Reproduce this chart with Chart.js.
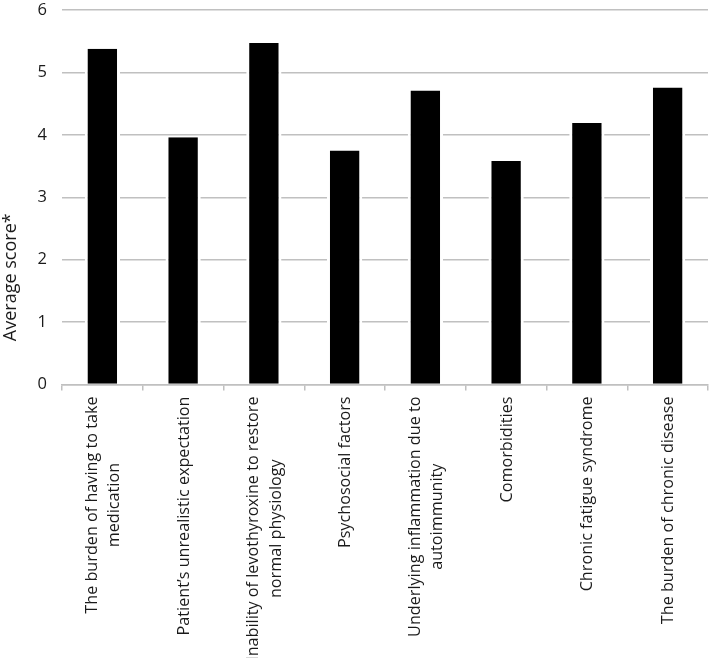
<!DOCTYPE html>
<html>
<head>
<meta charset="utf-8">
<script src="https://cdn.jsdelivr.net/npm/chart.js@4.4.1/dist/chart.umd.min.js"></script>
<style>
  html, body { margin: 0; padding: 0; background: #fff; }
</style>
</head>
<body>
<canvas id="chart" width="712" height="658"></canvas>
<script>
// data
const categories = [
  ['The burden of having to take', 'medication'],
  ['Patient\u2019s unrealistic expectation'],
  ['Inability of levothyroxine to restore', 'normal physiology'],
  ['Psychosocial factors'],
  ['Underlying inflammation due to', 'autoimmunity'],
  ['Comorbidities'],
  ['Chronic fatigue syndrome'],
  ['The burden of chronic disease']
];
const averageScores = [5.38, 3.96, 5.47, 3.75, 4.71, 3.58, 4.19, 4.76];
const yTicks = [0, 1, 2, 3, 4, 5, 6];
const yTitle = 'Average score*';

const TEXT = '#1a1a1a';
const GRID = '#c0c0c0';
const FONT = '"Open Sans"';
const LINE_H = 22.5;

// Excel style labels: rotated, lines centred on each other
const excelLabels = {
  id: 'excelLabels',
  afterDraw(chart) {
    const ctx = chart.ctx;
    const xScale = chart.scales.x;
    const area = chart.chartArea;
    ctx.save();
    ctx.fillStyle = TEXT;
    ctx.font = '16.2px ' + FONT;
    ctx.textAlign = 'center';
    ctx.textBaseline = 'middle';
    categories.forEach((lines, i) => {
      const cx = xScale.getPixelForTick(i);
      const maxW = Math.max(...lines.map(l => ctx.measureText(l).width));
      const cy = area.bottom + 12 + maxW / 2;
      lines.forEach((line, j) => {
        ctx.save();
        ctx.translate(cx + 1 + (j - (lines.length - 1) / 2) * LINE_H, cy);
        ctx.rotate(-Math.PI / 2);
        ctx.fillText(line, 0, 0);
        ctx.restore();
      });
    });

    ctx.font = '18px ' + FONT;
    ctx.textBaseline = 'alphabetic';
    ctx.translate(16, (area.top + area.bottom) / 2 + 80);
    ctx.rotate(-Math.PI / 2);
    ctx.fillText(yTitle, 0, 0);
    ctx.restore();
  }
};

new Chart(document.getElementById('chart'), {
  type: 'bar',
  data: {
    labels: categories,
    datasets: [{
      data: averageScores,
      backgroundColor: '#000000',
      borderColor: '#ffffff',
      borderWidth: { left: 3, right: 3, top: 0, bottom: 0 },
      borderSkipped: false,
      barPercentage: 0.437,
      categoryPercentage: 1
    }]
  },
  options: {
    responsive: false,
    animation: false,
    layout: { padding: { top: 10, right: 4, left: 0, bottom: 0 } },
    plugins: {
      legend: { display: false },
      tooltip: { enabled: false }
    },
    scales: {
      x: {
        grid: {
          offset: true,
          drawOnChartArea: false,
          drawTicks: true,
          tickLength: 6,
          color: GRID,
          lineWidth: 1.5
        },
        border: { display: true, color: GRID, width: 1.5 },
        ticks: { display: false },
        afterFit(scale) { scale.height = 658 - 384.5; }
      },
      y: {
        min: yTicks[0],
        max: yTicks[yTicks.length - 1],
        afterBuildTicks(scale) { scale.ticks = yTicks.map(v => ({ value: v })); },
        grid: { color: GRID, lineWidth: 1.5, drawTicks: false },
        border: { display: false },
        ticks: {
          padding: 15,
          color: TEXT,
          font: { family: 'Open Sans', size: 16.5 }
        },
        afterFit(scale) {
          scale.width = 62;
          scale.paddingTop = 0;
          scale.paddingBottom = 0;
        }
      }
    }
  },
  plugins: [excelLabels]
});
</script>
</body>
</html>
